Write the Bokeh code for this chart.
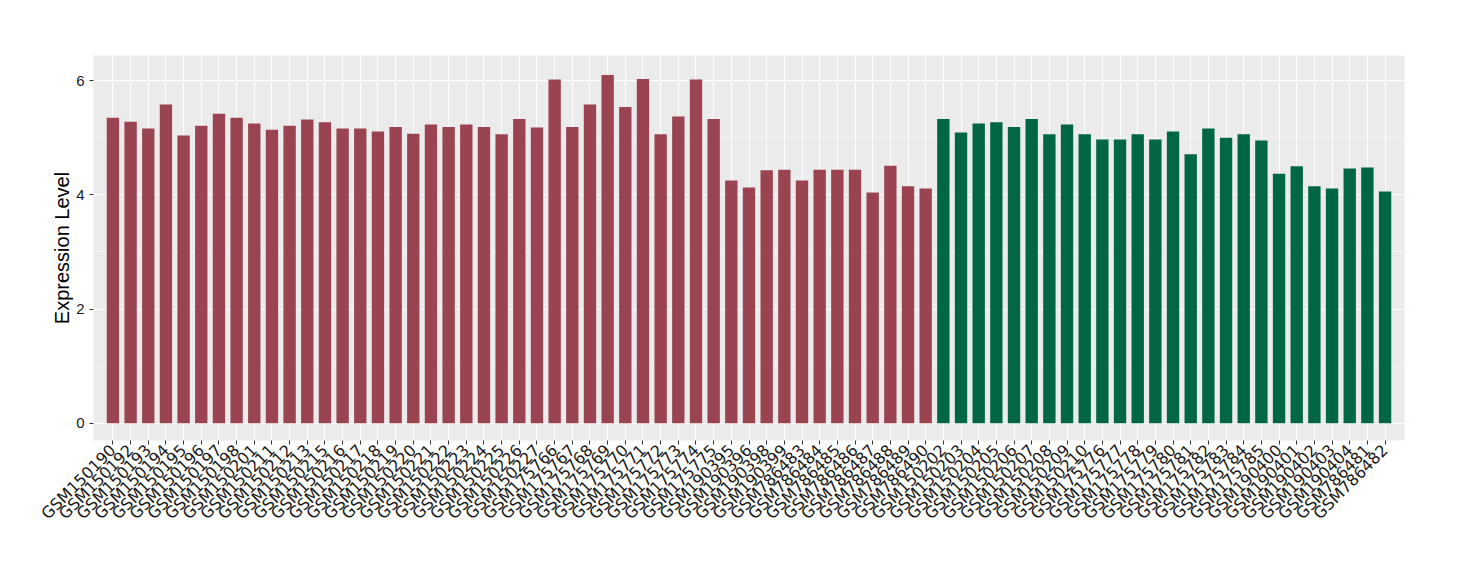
import math
from bokeh.plotting import figure
from bokeh.models import FactorRange, Range1d, SingleIntervalTicker, ColumnDataSource
from bokeh.embed import file_html
from bokeh.resources import INLINE

group1_samples = ["GSM150190", "GSM150192", "GSM150193", "GSM150194", "GSM150195", "GSM150196",
                  "GSM150197", "GSM150198", "GSM150201", "GSM150211", "GSM150212", "GSM150213",
                  "GSM150215", "GSM150216", "GSM150217", "GSM150218", "GSM150219", "GSM150220",
                  "GSM150221", "GSM150222", "GSM150223", "GSM150224", "GSM150225", "GSM150226",
                  "GSM150227", "GSM175766", "GSM175767", "GSM175768", "GSM175769", "GSM175770",
                  "GSM175771", "GSM175772", "GSM175773", "GSM175774", "GSM175775", "GSM190395",
                  "GSM190396", "GSM190398", "GSM190399", "GSM786483", "GSM786484", "GSM786485",
                  "GSM786486", "GSM786487", "GSM786488", "GSM786489", "GSM786490"]
group1_values = [5.35, 5.28, 5.16, 5.58, 5.04, 5.21, 5.42, 5.35, 5.25, 5.14, 5.21, 5.32,
                 5.27, 5.16, 5.16, 5.11, 5.19, 5.07, 5.23, 5.19, 5.23, 5.19, 5.06, 5.33,
                 5.18, 6.02, 5.19, 5.58, 6.10, 5.54, 6.03, 5.06, 5.37, 6.02, 5.33, 4.25,
                 4.13, 4.43, 4.44, 4.25, 4.44, 4.44, 4.44, 4.04, 4.51, 4.15, 4.11]

group2_samples = ["GSM150202", "GSM150203", "GSM150204", "GSM150205", "GSM150206", "GSM150207",
                  "GSM150208", "GSM150209", "GSM150210", "GSM175776", "GSM175777", "GSM175778",
                  "GSM175779", "GSM175780", "GSM175781", "GSM175782", "GSM175783", "GSM175784",
                  "GSM175785", "GSM190400", "GSM190401", "GSM190402", "GSM190403", "GSM190404",
                  "GSM786481", "GSM786482"]
group2_values = [5.33, 5.09, 5.25, 5.27, 5.19, 5.33, 5.06, 5.23, 5.06, 4.97, 4.97, 5.06,
                 4.97, 5.11, 4.71, 5.16, 5.00, 5.06, 4.95, 4.37, 4.50, 4.15, 4.11, 4.46,
                 4.48, 4.06]

RED = "#9A4452"
GREEN = "#006644"

factors = group1_samples + group2_samples
n = len(factors)

p = figure(width=1444, height=564, output_backend="svg", toolbar_location=None,
           x_range=FactorRange(factors=factors, range_padding=1.2 / n),
           y_range=Range1d(-0.30, 6.44),
           min_border_left=93, min_border_right=40, min_border_top=55, min_border_bottom=124)

src1 = ColumnDataSource(dict(x=group1_samples, top=group1_values))
src2 = ColumnDataSource(dict(x=group2_samples, top=group2_values))
p.vbar(x="x", top="top", bottom=0, width=0.7, source=src1, fill_color=RED, line_color=None)
p.vbar(x="x", top="top", bottom=0, width=0.7, source=src2, fill_color=GREEN, line_color=None)

p.background_fill_color = "#EBEBEB"
p.border_fill_color = "white"
p.outline_line_color = None

p.xgrid.grid_line_color = "white"
p.xgrid.grid_line_width = 1.1
p.ygrid.grid_line_color = "white"
p.ygrid.grid_line_width = 1.1
p.ygrid.minor_grid_line_color = "white"
p.ygrid.minor_grid_line_width = 0.55

p.yaxis.ticker = SingleIntervalTicker(interval=2, num_minor_ticks=2)
p.yaxis.minor_tick_line_color = None
p.yaxis.axis_line_color = None
p.xaxis.axis_line_color = None
for ax in (p.xaxis, p.yaxis):
    ax.major_tick_line_color = "#333333"
    ax.major_tick_in = 0
    ax.major_tick_out = 4
    ax.major_label_text_color = "#1a1a1a"

p.xaxis.major_label_text_font = "DejaVu Sans"
p.xaxis.major_label_text_font_size = "16px"
p.yaxis.major_label_text_font = "Liberation Sans"
p.yaxis.major_label_text_font_size = "15px"
p.xaxis.major_label_orientation = math.pi / 4
p.xaxis.major_label_standoff = 3
p.yaxis.major_label_standoff = 5

p.yaxis.axis_label = "Expression Level"
p.yaxis.axis_label_text_font = "Liberation Sans"
p.yaxis.axis_label_text_font_size = "20px"
p.yaxis.axis_label_text_font_style = "normal"
p.yaxis.axis_label_text_color = "black"
p.yaxis.axis_label_standoff = 0

open("out.html", "w").write(file_html(p, INLINE))
